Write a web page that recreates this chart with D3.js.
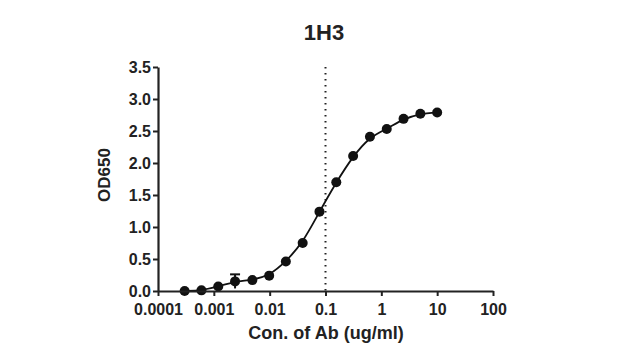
<!DOCTYPE html>
<html lang="en">
<head>
  <meta charset="UTF-8">
  <title>1H3</title>
  <style>
    body { margin: 0; background: #fff; }
    text { font-family: "Liberation Sans", Arial, sans-serif; font-weight: bold; fill: #222; }
  </style>
</head>
<body>
  <div id="chart"></div>
  <script src="https://cdnjs.cloudflare.com/ajax/libs/d3/7.8.5/d3.min.js"></script>
  <script>
    // 2-fold dilution series, ug/ml
    const conc = [0.0003, 0.0006, 0.0012, 0.0024, 0.0049, 0.0098, 0.0195, 0.039,
                  0.078, 0.156, 0.3125, 0.625, 1.25, 2.5, 5, 10]
    const od650 = [0.0, 0.01, 0.07, 0.15, 0.17, 0.24, 0.46, 0.75,
                   1.24, 1.70, 2.11, 2.41, 2.53, 2.69, 2.77, 2.79]
    const errs = [0, 0, 0, 0.11, 0, 0, 0, 0, 0, 0, 0, 0, 0, 0, 0, 0]
    const xTicks = [0.0001, 0.001, 0.01, 0.1, 1, 10, 100]
    const yTicks = [0, 0.5, 1, 1.5, 2, 2.5, 3, 3.5]
    const ec50Line = 0.1

    const margin = {top: 67, left: 158}
    const w = 335, h = 224

    const svg = d3.select('#chart').append('svg')
      .attr('width', 640).attr('height', 361)
    const g = svg.append('g')
      .attr('transform', `translate(${margin.left},${margin.top})`)

    const x = d3.scaleLog().domain([0.0001, 100]).range([0, w])
    const y = d3.scaleLinear().domain([0, 3.5]).range([h, 0])

    const data = conc.map((c, i) => ({c: c, v: od650[i], e: errs[i]}))

    // dotted reference line
    g.append('line')
      .attr('x1', x(ec50Line)).attr('x2', x(ec50Line))
      .attr('y1', y(3.5)).attr('y2', y(0))
      .attr('stroke', '#222').attr('stroke-width', 2)
      .attr('stroke-dasharray', '1.5,4.5')

    // fitted curve through the points
    const line = d3.line()
      .x(d => x(d.c)).y(d => y(d.v))
      .curve(d3.curveBasis)
    g.append('path')
      .datum(data)
      .attr('d', line)
      .attr('fill', 'none').attr('stroke', '#111').attr('stroke-width', 1.8)

    // error bars
    const eb = g.append('g').selectAll('g')
      .data(data.filter(d => d.e > 0)).enter().append('g')
    eb.append('line')
      .attr('x1', d => x(d.c)).attr('x2', d => x(d.c))
      .attr('y1', d => y(d.v + d.e)).attr('y2', d => y(d.v - d.e))
      .attr('stroke', '#111').attr('stroke-width', 2)
    eb.append('line')
      .attr('x1', d => x(d.c) - 5).attr('x2', d => x(d.c) + 5)
      .attr('y1', d => y(d.v + d.e)).attr('y2', d => y(d.v + d.e))
      .attr('stroke', '#111').attr('stroke-width', 2)

    // points
    g.append('g').selectAll('circle')
      .data(data).enter().append('circle')
      .attr('cx', d => x(d.c)).attr('cy', d => y(d.v))
      .attr('r', 5)
      .attr('fill', '#111')

    // axes
    const xAxis = d3.axisBottom(x).tickValues(xTicks)
      .tickFormat(d => d3.format('~g')(d)).tickSize(5).tickSizeOuter(0)
    const yAxis = d3.axisLeft(y).tickValues(yTicks)
      .tickFormat(d3.format('.1f')).tickSize(5).tickSizeOuter(0)

    const gx = g.append('g').attr('transform', `translate(0,${h})`).call(xAxis)
    const gy = g.append('g').call(yAxis)
    ;[gx, gy].forEach(a => {
      a.select('.domain').attr('stroke', '#222').attr('stroke-width', 2.2)
      a.selectAll('.tick line').attr('stroke', '#222').attr('stroke-width', 2)
      a.selectAll('.tick text').style('font-size', '16px')
        .attr('fill', '#222').style('font-family', '"Liberation Sans", Arial, sans-serif')
    })
    gx.selectAll('.tick text').attr('dy', '0.9em').attr('y', 10)
    gy.selectAll('.tick text').attr('x', -7)

    // labels
    svg.append('text')
      .attr('x', 324).attr('y', 40)
      .attr('text-anchor', 'middle')
      .style('font-size', '22px')
      .text('1H3')

    svg.append('text')
      .attr('transform', 'translate(110,175) rotate(-90)')
      .attr('text-anchor', 'middle')
      .style('font-size', '17px')
      .text('OD650')

    svg.append('text')
      .attr('x', 326).attr('y', 339)
      .attr('text-anchor', 'middle')
      .style('font-size', '18px')
      .text('Con. of Ab (ug/ml)')
  </script>
</body>
</html>
